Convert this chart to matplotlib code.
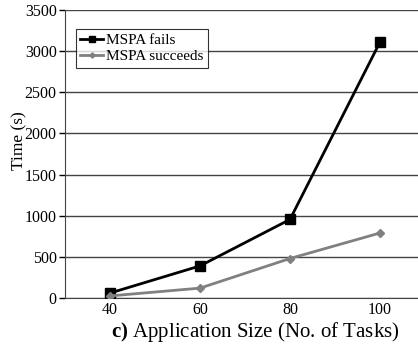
import matplotlib.pyplot as plt

sizes = [40, 60, 80, 100]
mspa_fails = [60, 390, 955, 3110]
mspa_succeeds = [25, 120, 480, 790]

plt.rcParams['font.family'] = ['Liberation Serif', 'DejaVu Serif']
plt.rcParams['mathtext.fontset'] = 'custom'
plt.rcParams['mathtext.rm'] = 'Liberation Serif'
plt.rcParams['mathtext.bf'] = 'Liberation Serif:bold'

fig = plt.figure(figsize=(4.18, 3.48), dpi=100)
# category axis runs a little past the right edge of the figure
ax = fig.add_axes([65 / 418, 50 / 348, 360 / 418, 288 / 348])

pos = list(range(len(sizes)))
ax.plot(pos, mspa_fails, color='black', lw=2, marker='s', ms=6.5,
        label='MSPA fails', zorder=3)
ax.plot(pos, mspa_succeeds, color='#808080', lw=2, marker='D', ms=4.5,
        label='MSPA succeeds', zorder=3)

ax.set_xlim(-0.5, 3.5)
ax.set_ylim(0, 3500)
ax.set_xticks(pos)
ax.set_xticklabels([str(s) for s in sizes])
ax.set_yticks(range(0, 3501, 500))
ax.tick_params(axis='both', labelsize=11.5, colors='black')
ax.tick_params(axis='x', length=0, pad=3)
ax.tick_params(axis='y', direction='out', length=4, width=1, pad=2)

ax.grid(axis='y', color='#444444', lw=1)
ax.set_axisbelow(True)
for s in ['top', 'right']:
    ax.spines[s].set_visible(False)
ax.spines['left'].set_color('#444444')
ax.spines['bottom'].set_color('#444444')

ax.set_ylabel('Time (s)', fontsize=12.5)
ax.yaxis.set_label_coords(-38 / 360, 0.545)
ax.set_xlabel(r'$\mathbf{c)}$ Application Size (No. of Tasks)', fontsize=15)
ax.xaxis.set_label_coords(190 / 360, -0.075)

leg = ax.legend(loc='upper left', bbox_to_anchor=(0.03, 0.935), fontsize=11,
                frameon=True, fancybox=False, handlelength=1.5,
                handletextpad=0.2, borderpad=0.3, labelspacing=0.15,
                borderaxespad=0, markerscale=0.6)
leg.get_frame().set_edgecolor('black')
leg.get_frame().set_linewidth(0.8)

fig.savefig('out.png', dpi=100)
